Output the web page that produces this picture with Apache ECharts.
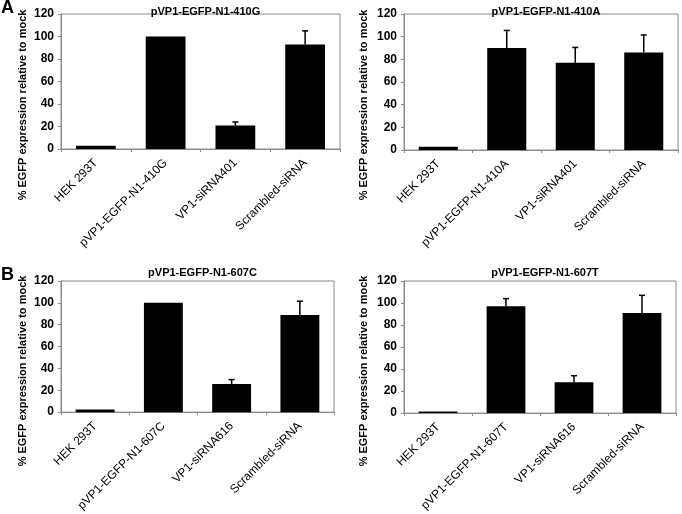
<!DOCTYPE html>
<html><head><meta charset="utf-8">
<script src="https://cdn.jsdelivr.net/npm/echarts@6/dist/echarts.min.js"></script>
<style>html,body{margin:0;padding:0;background:#fff}#c{width:682px;height:514px}</style>
</head><body><div id="c"></div>
<script>
// ---- data ----
const panelTitles = ["pVP1-EGFP-N1-410G", "pVP1-EGFP-N1-410A", "pVP1-EGFP-N1-607C", "pVP1-EGFP-N1-607T"];
const categories410G = ["HEK 293T", "pVP1-EGFP-N1-410G", "VP1-siRNA401", "Scrambled-siRNA"];
const categories410A = ["HEK 293T", "pVP1-EGFP-N1-410A", "VP1-siRNA401", "Scrambled-siRNA"];
const categories607C = ["HEK 293T", "pVP1-EGFP-N1-607C", "VP1-siRNA616", "Scrambled-siRNA"];
const categories607T = ["HEK 293T", "pVP1-EGFP-N1-607T", "VP1-siRNA616", "Scrambled-siRNA"];
const values410G = [3, 100, 20.8, 93];
const errors410G = [0, 0, 3.2, 12];
const values410A = [2.8, 90, 77, 86];
const errors410A = [0, 15.5, 13.5, 15.5];
const values607C = [2.4, 100, 25.8, 89];
const errors607C = [0, 0, 4, 12.5];
const values607T = [1.5, 97, 28, 91];
const errors607T = [0, 7, 6, 16];
const yTicks = [0, 20, 40, 60, 80, 100, 120];
const yAxisLabel = "% EGFP expression relative to mock";
const panelLetters = ["A", "B"];

// ---- layout ----
const FONT = "Liberation Sans, Arial, sans-serif";
const grids = [
  {left: 61, top: 14, width: 279, height: 135},
  {left: 404, top: 14, width: 274, height: 136},
  {left: 61, top: 281, width: 273, height: 136},
  {left: 404, top: 281, width: 272, height: 136}
];
const cats = [categories410G, categories410A, categories607C, categories607T];
const vals = [values410G, values410A, values607C, values607T];
const errs = [errors410G, errors410A, errors607C, errors607T];

const option = {
  animation: false,
  backgroundColor: '#fff',
  title: panelTitles.map((t, i) => ({
    text: t,
    left: grids[i].left + grids[i].width / 2,
    textAlign: 'center',
    top: i < 2 ? 1 : 262,
    textStyle: {fontFamily: FONT, fontSize: 11, fontWeight: 'bold', color: '#000'}
  })),
  grid: grids.map(g => Object.assign({show: true, borderColor: '#8a8a8a', borderWidth: 1, backgroundColor: 'transparent'}, g)),
  xAxis: cats.map((c, i) => ({
    type: 'category', gridIndex: i, data: c,
    axisLine: {lineStyle: {color: '#8a8a8a', width: 1}},
    axisTick: {show: true, length: 3, lineStyle: {color: '#8a8a8a'}},
    axisLabel: {rotate: 45, fontFamily: FONT, fontSize: 12, color: '#000', margin: 12, interval: 0}
  })),
  yAxis: cats.map((c, i) => ({
    type: 'value', gridIndex: i, min: 0, max: 120, interval: 20,
    axisLine: {show: true, lineStyle: {color: '#8a8a8a', width: 1}},
    axisTick: {show: true, length: 3, lineStyle: {color: '#8a8a8a'}},
    splitLine: {show: false},
    axisLabel: {fontFamily: FONT, fontSize: 12, fontWeight: 'bold', color: '#000', margin: 7,
      formatter: v => yTicks.includes(v) ? String(v) : ''}
  })),
  series: [].concat(
    vals.map((v, i) => ({
      type: 'bar', xAxisIndex: i, yAxisIndex: i, data: v, barWidth: '57%',
      itemStyle: {color: '#000'}, silent: true
    })),
    vals.map((v, i) => ({
      type: 'custom', xAxisIndex: i, yAxisIndex: i,
      data: v.map((val, k) => [k, val, errs[i][k]]),
      renderItem: function (params, api) {
        const e = api.value(2);
        if (!e) return null;
        const x = api.value(0), y = api.value(1);
        const p0 = api.coord([x, y]);
        const p1 = api.coord([x, y + e]);
        const cap = 3;
        return {type: 'group', children: [
          {type: 'line', shape: {x1: p0[0], y1: p0[1], x2: p1[0], y2: p1[1]}, style: {stroke: '#000', lineWidth: 1.5}},
          {type: 'line', shape: {x1: p1[0] - cap, y1: p1[1], x2: p1[0] + cap, y2: p1[1]}, style: {stroke: '#000', lineWidth: 1.5}}
        ]};
      },
      z: 5, silent: true
    }))
  ),
  graphic: [
    {type: 'text', left: 1, top: -1, style: {text: panelLetters[0], font: 'bold 18px ' + FONT, fill: '#000'}},
    {type: 'text', left: 1, top: 266, style: {text: panelLetters[1], font: 'bold 18px ' + FONT, fill: '#000'}},
    ...[[23, 105], [364, 105], [23, 371], [364, 371]].map(p => ({
      type: 'text', x: p[0], y: p[1], rotation: Math.PI / 2,
      style: {text: yAxisLabel, font: 'bold 11px ' + FONT, fill: '#000', align: 'center', verticalAlign: 'middle'}
    }))
  ]
};
const chart = echarts.init(document.getElementById('c'));
chart.setOption(option);
</script>
</body></html>
